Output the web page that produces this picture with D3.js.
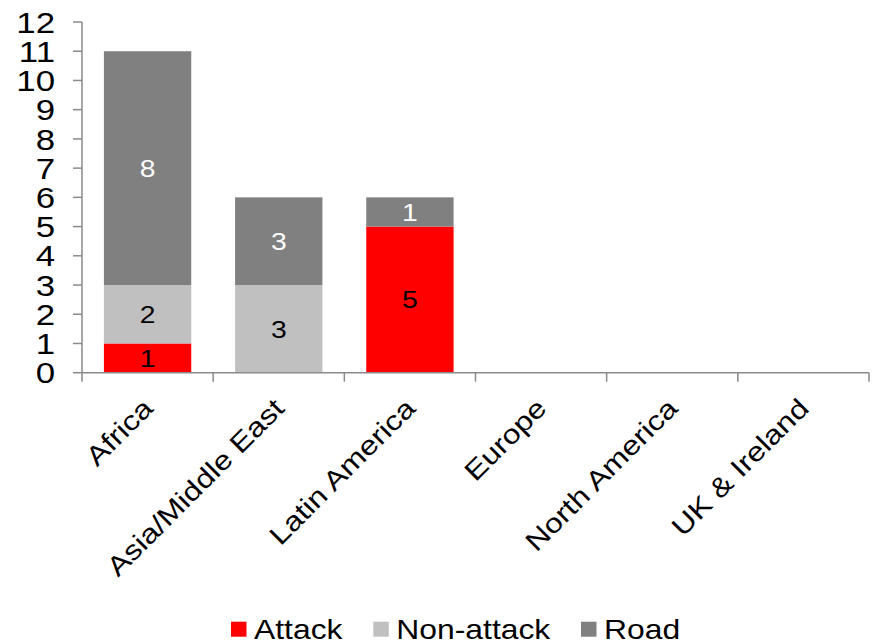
<!DOCTYPE html>
<html>
<head>
<meta charset="utf-8">
<script src="https://cdn.jsdelivr.net/npm/d3@7"></script>
<style>
  html, body { margin: 0; padding: 0; background: #fff; }
  svg { display: block; }
  text { font-family: "Liberation Sans", Arial, sans-serif; }
</style>
</head>
<body>
<svg id="chart" width="873" height="644"></svg>
<script>
// Incident counts by region and type
const categories = ["Africa", "Asia/Middle East", "Latin America", "Europe", "North America", "UK & Ireland"];
const attack    = [1, 0, 5, 0, 0, 0];
const nonAttack = [2, 3, 0, 0, 0, 0];
const road      = [8, 3, 1, 0, 0, 0];
const seriesNames = ["Attack", "Non-attack", "Road"];
const yTicks = [0, 1, 2, 3, 4, 5, 6, 7, 8, 9, 10, 11, 12];

const colors = { "Attack": "#ff0000", "Non-attack": "#c0c0c0", "Road": "#808080" };
const labelColors = { "Attack": "#000", "Non-attack": "#000", "Road": "#fff" };
const SX = 1.18;          // wide glyph rendering
const axisColor = "#8a8a8a";

const svg = d3.select("#chart");

const rows = categories.map((c, i) => ({
  category: c, "Attack": attack[i], "Non-attack": nonAttack[i], "Road": road[i]
}));
const stacked = d3.stack().keys(seriesNames)(rows);

const x = d3.scaleBand().domain(categories).range([82, 869]).paddingInner(0.334).paddingOuter(0.167);
const y = d3.scaleLinear().domain([0, 12]).range([372.7, 22]);

// Bars
const layers = svg.append("g").selectAll("g").data(stacked).join("g")
  .attr("fill", d => colors[d.key]);
layers.selectAll("rect").data(d => d.filter(s => s[1] > s[0])).join("rect")
  .attr("x", d => x(d.data.category))
  .attr("width", x.bandwidth())
  .attr("y", d => y(d[1]))
  .attr("height", d => y(d[0]) - y(d[1]));

// Value labels centred in each segment
stacked.forEach(layer => {
  svg.append("g").selectAll("text")
    .data(layer.filter(s => s[1] > s[0]))
    .join("text")
    .attr("transform", d => `translate(${x(d.data.category) + x.bandwidth() / 2},${(y(d[0]) + y(d[1])) / 2}) scale(${SX},1)`)
    .attr("text-anchor", "middle")
    .attr("dy", "0.36em")
    .attr("font-size", 24)
    .attr("fill", labelColors[layer.key])
    .text(d => d[1] - d[0]);
});

// Y axis
const yAxis = svg.append("g");
yAxis.append("line").attr("x1", 82).attr("x2", 82).attr("y1", y(12)).attr("y2", y(0))
  .attr("stroke", axisColor).attr("stroke-width", 1.5);
const yt = yAxis.selectAll("g.tick").data(yTicks).join("g").attr("class", "tick");
yt.append("line").attr("x1", 73).attr("x2", 82).attr("y1", d => y(d)).attr("y2", d => y(d))
  .attr("stroke", axisColor).attr("stroke-width", 1.5);
yt.append("text")
  .attr("transform", d => `translate(55,${y(d)}) scale(${SX},1)`)
  .attr("text-anchor", "end")
  .attr("dy", "0.36em")
  .attr("font-size", 29.5)
  .attr("fill", "#000")
  .text(d => d);

// X axis
const xAxis = svg.append("g");
const step = x.step();
const bounds = d3.range(categories.length + 1).map(i => 82 + i * step);
xAxis.append("line").attr("x1", 82).attr("x2", 869).attr("y1", y(0)).attr("y2", y(0))
  .attr("stroke", axisColor).attr("stroke-width", 1.5);
xAxis.selectAll("line.tick").data(bounds).join("line").attr("class", "tick")
  .attr("x1", d => d).attr("x2", d => d).attr("y1", y(0)).attr("y2", y(0) + 9)
  .attr("stroke", axisColor).attr("stroke-width", 1.5);
xAxis.selectAll("text").data(categories).join("text")
  .attr("transform", d => `translate(${x(d) + x.bandwidth() / 2 + 7},410) rotate(-45) scale(${SX},1)`)
  .attr("text-anchor", "end")
  .attr("font-size", 27)
  .attr("fill", "#000")
  .text(d => d);

// Legend
const legendX = [231, 373.3, 581];
const legend = svg.append("g").selectAll("g").data(seriesNames).join("g")
  .attr("transform", (d, i) => `translate(${legendX[i]},0)`);
legend.append("rect").attr("x", 0).attr("y", 621.7).attr("width", 15.5).attr("height", 15)
  .attr("fill", d => colors[d]);
legend.append("text")
  .attr("transform", `translate(23,639.3) scale(${SX},1)`)
  .attr("font-size", 27)
  .attr("fill", "#000")
  .text(d => d);
</script>
</body>
</html>
